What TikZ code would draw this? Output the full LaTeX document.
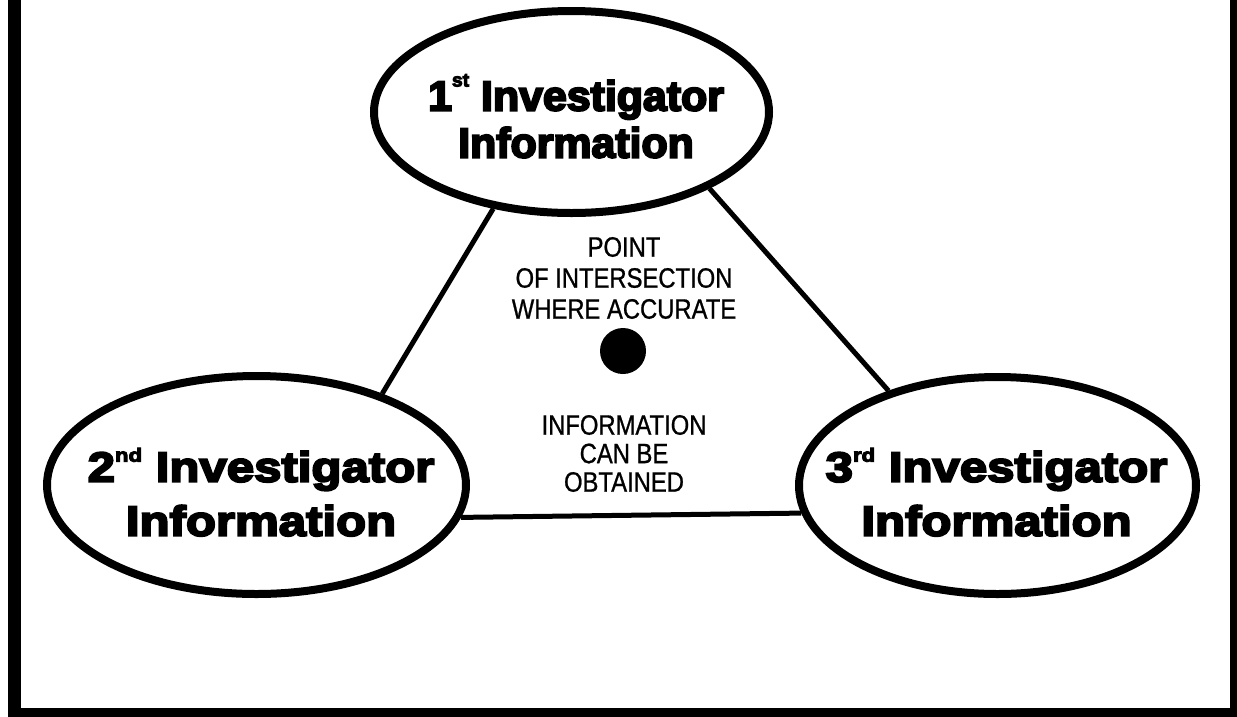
\documentclass[tikz,border=0pt]{standalone}
\usepackage{fontspec}
\setmainfont{Liberation Sans}
\usetikzlibrary{shapes.geometric}

% fonts: a condensed face for the notes, a heavy face for the bubble titles
\newfontfamily\narrowfont[FakeStretch=0.85,FakeBold=0.8]{Liberation Sans}
\newfontfamily\heavytop[FakeStretch=1.02,FakeBold=5]{Liberation Sans Bold}
\newfontfamily\heavyside[FakeStretch=1.17,FakeBold=5]{Liberation Sans Bold}

% raised ordinal suffix: #1 = lift, #2 = letters
\newcommand\ordsup[2]{\raisebox{#1}{\fontsize{19}{19}\selectfont #2}}

\tikzset{
  infobubble/.style={ellipse, draw, line width=8pt, inner sep=0pt, fill=white},
  link/.style={line width=5pt},
  frameline/.style={line width=13pt, line join=miter},
  toplabel/.style={font=\heavytop\fontsize{42}{47}\selectfont, align=center, inner sep=0pt},
  sidelabel/.style={font=\heavyside\fontsize{42}{54}\selectfont, align=center, inner sep=0pt},
  note/.style={font=\narrowfont\fontsize{28}{31}\selectfont, align=center, inner sep=0pt},
  notelow/.style={font=\narrowfont\fontsize{28}{28.5}\selectfont, align=center, inner sep=0pt},
  hub/.style={circle, fill, minimum size=46pt, inner sep=0pt},
}

\begin{document}
\begin{tikzpicture}[x=1pt,y=-1pt]
  \useasboundingbox (0,0) rectangle (1237,716);
  \clip (0,0) rectangle (1237,716);
  \fill[white] (0,0) rectangle (1237,716);

  % open frame around the figure
  \draw[frameline] (14.5,-30) -- (14.5,714.5) -- (1236.5,714.5) -- (1236.5,-30);

  % the three information sources
  \node[infobubble, minimum width=395pt, minimum height=202pt] (first) at (571.5,112) {};
  \node[infobubble, minimum width=419pt, minimum height=218pt] (second) at (256.5,485) {};
  \node[infobubble, minimum width=397pt, minimum height=217pt] (third) at (997.5,485.5) {};

  % triangle joining them
  \draw[link] (first.231.6) -- (second.36.9);
  \draw[link] (first.331) -- (third.139);
  \draw[link] (second.351.8) -- (third.188.5);

  % titles
  \node[toplabel] (firstlabel) at (576,116) {1\ordsup{24pt}{st} Investigator\\Information};
  \node[sidelabel] (secondlabel) at (261,492) {2\ordsup{20pt}{nd} Investigator\\Information};
  \node[sidelabel] (thirdlabel) at (996.5,492) {3\ordsup{20pt}{rd} Investigator\\Information};

  % centre of the triangle
  \node[note] (upper) at (624,278) {POINT\\OF INTERSECTION\\WHERE ACCURATE};
  \node[hub] (dot) at (623,351) {};
  \node[notelow] (lower) at (624,453.5) {INFORMATION\\CAN BE\\OBTAINED};
\end{tikzpicture}
\end{document}
